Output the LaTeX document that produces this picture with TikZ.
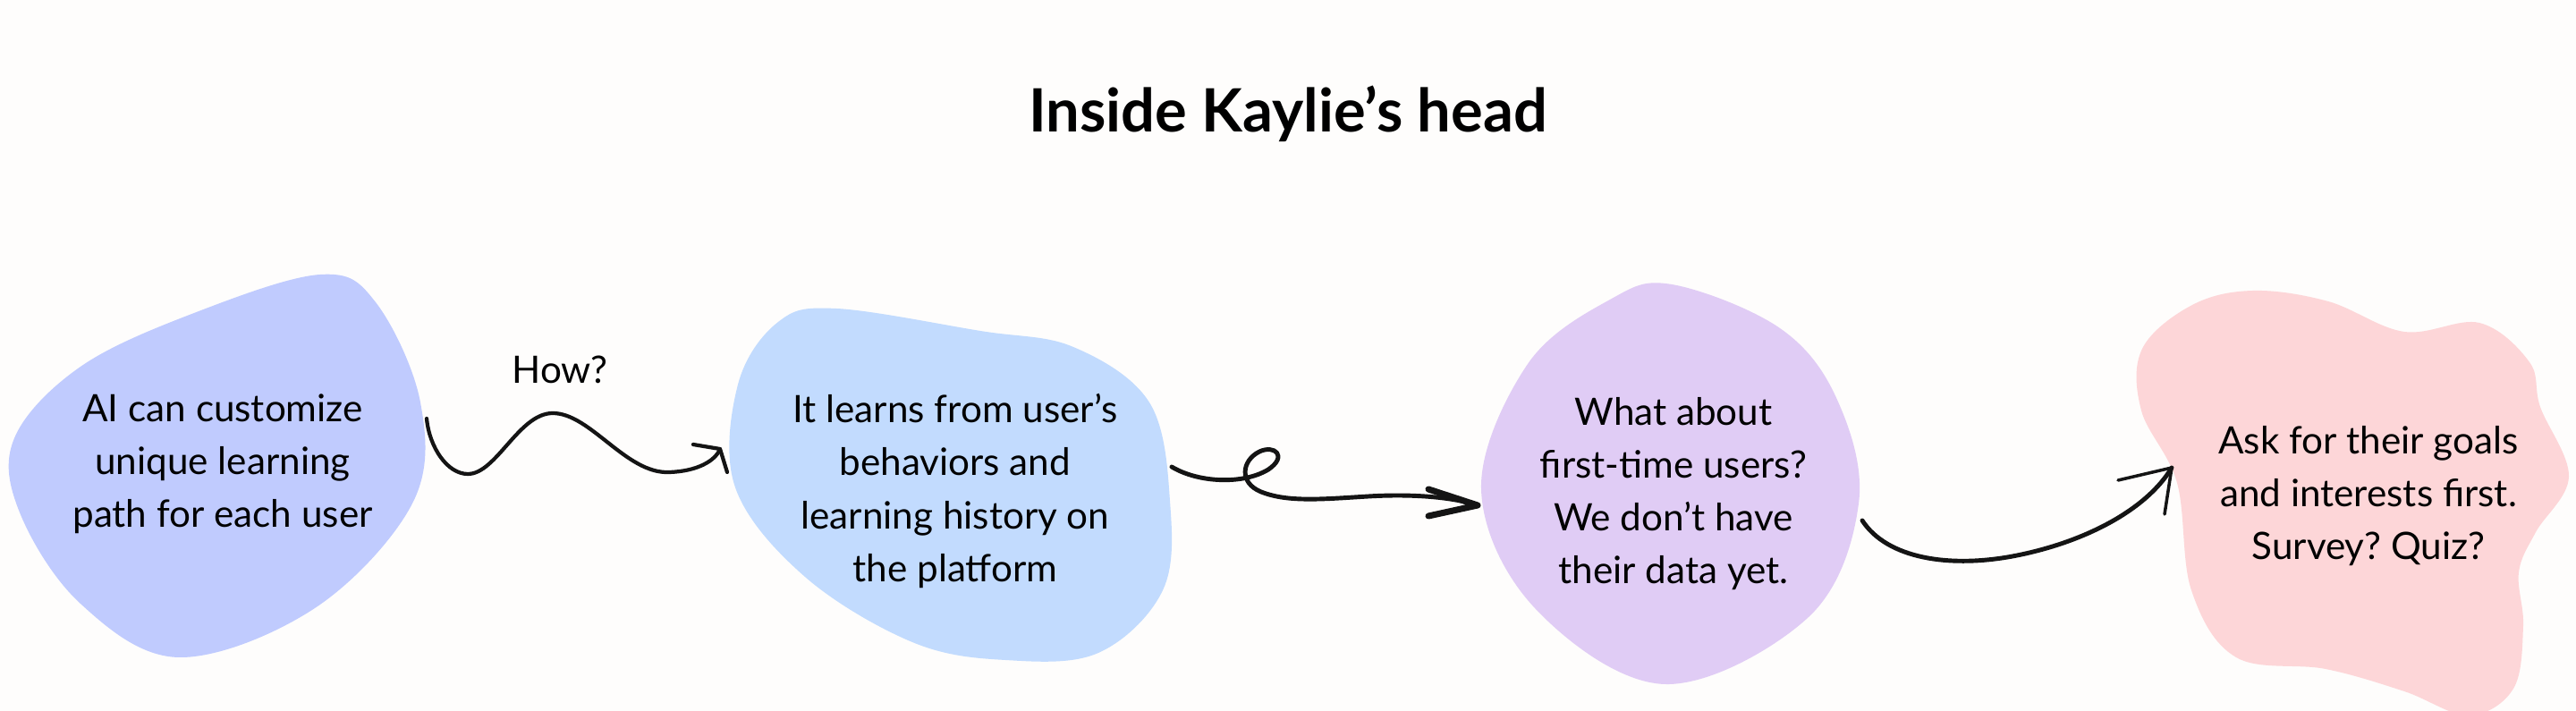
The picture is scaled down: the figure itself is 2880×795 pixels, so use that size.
\documentclass[tikz,border=0pt]{standalone}
\usepackage{fontspec}
\setmainfont{Lato}
\frenchspacing
\definecolor{paper}{RGB}{254,253,252}
\definecolor{blobA}{RGB}{192,203,254}
\definecolor{blobB}{RGB}{194,219,254}
\definecolor{blobC}{RGB}{224,204,245}
\definecolor{blobD}{RGB}{253,214,216}
\definecolor{ink}{RGB}{20,20,20}

\begin{document}
\begin{tikzpicture}[x=0.01cm,y=-0.01cm,
    blob/.style={smooth cycle,tension=0.6},
    thought/.style={align=center,text=black,font=\fontsize{12pt}{16.8pt}\selectfont},
    squiggle/.style={draw=ink,line width=1.2pt,line cap=round,line join=round},
    pencil/.style={draw=ink,line width=1.4pt,line cap=round,line join=round}]

\clip (0,0) rectangle (2880,795);
\fill[paper] (0,0) rectangle (2880,795);

% the four thought blobs
\fill[blobA,blob] plot coordinates {(358,307) (217,350) (90,410) (16,490) (22,573) (90,675) (200,735) (352,680) (461,563) (470,450) (420,338)};
\fill[blobB,blob] plot coordinates {(935,345) (1096,370) (1200,388) (1285,450) (1308,560) (1300,660) (1228,730) (1124,738) (1020,718) (900,645) (822,545) (825,430) (870,360)};
\fill[blobC,blob] plot coordinates {(1869,318) (1990,367) (2054,447) (2078,563) (2022,690) (1861,765) (1716,680) (1656,547) (1708,407) (1800,335)};
\fill[blobD,blob] plot coordinates {(2519,325) (2603,337) (2688,371) (2772,361) (2828,405) (2840,455) (2872,533) (2835,595) (2816,640) (2821,700) (2810,770) (2760,800) (2688,773) (2600,748) (2500,735) (2450,660) (2434,540) (2394,459) (2395,390) (2451,341)};

\node[font=\bfseries\fontsize{19pt}{23pt}\selectfont] (title) at (1440,127) {Inside Kaylie’s head};

\node[thought] (idea) at (249,519) {AI can customize\\unique learning\\path for each user};
\node[thought] (learn) at (1068,549) {It learns from user’s\\behaviors and\\learning history on\\the platform};
\node[thought] (newbie) at (1871,552) {What about\\first-time users?\\We don’t have\\their data yet.};
\node[thought] (ask) at (2648,555) {Ask for their goals\\and interests first.\\Survey? Quiz?};
\node[thought] (how) at (626,413) {How?};

\coordinate (howA) at (477,468);
\coordinate (howB) at (805,502);
\coordinate (loopA) at (1310,522);
\coordinate (loopB) at (1652,565);
\coordinate (swingA) at (2082,582);
\coordinate (swingB) at (2428,523);

% wavy one
\draw[squiggle] (howA) .. controls (480,500) and (500,530) .. (523,530) .. controls (555,530) and (580,462) .. (618,462) .. controls (660,462) and (700,530) .. (748,528) .. controls (780,527) and (800,515) .. (howB);
\draw[squiggle] (775,497) -- (howB) -- (813,528);

% loop one
\draw[pencil] (loopA) .. controls (1340,540) and (1390,542) .. (1418,525) .. controls (1440,510) and (1425,497) .. (1408,505) .. controls (1388,515) and (1385,540) .. (1410,550) .. controls (1440,562) and (1480,558) .. (1530,555) .. controls (1580,552) and (1625,556) .. (loopB);
\draw[pencil,line width=2pt] (1597,547) -- (loopB) -- (1597,577);

% swing one
\draw[pencil] (swingA) .. controls (2110,625) and (2180,635) .. (2250,622) .. controls (2330,607) and (2400,570) .. (swingB);
\draw[pencil,line width=1pt] (2368,537) -- (swingB) -- (2420,575);

\end{tikzpicture}
\end{document}
